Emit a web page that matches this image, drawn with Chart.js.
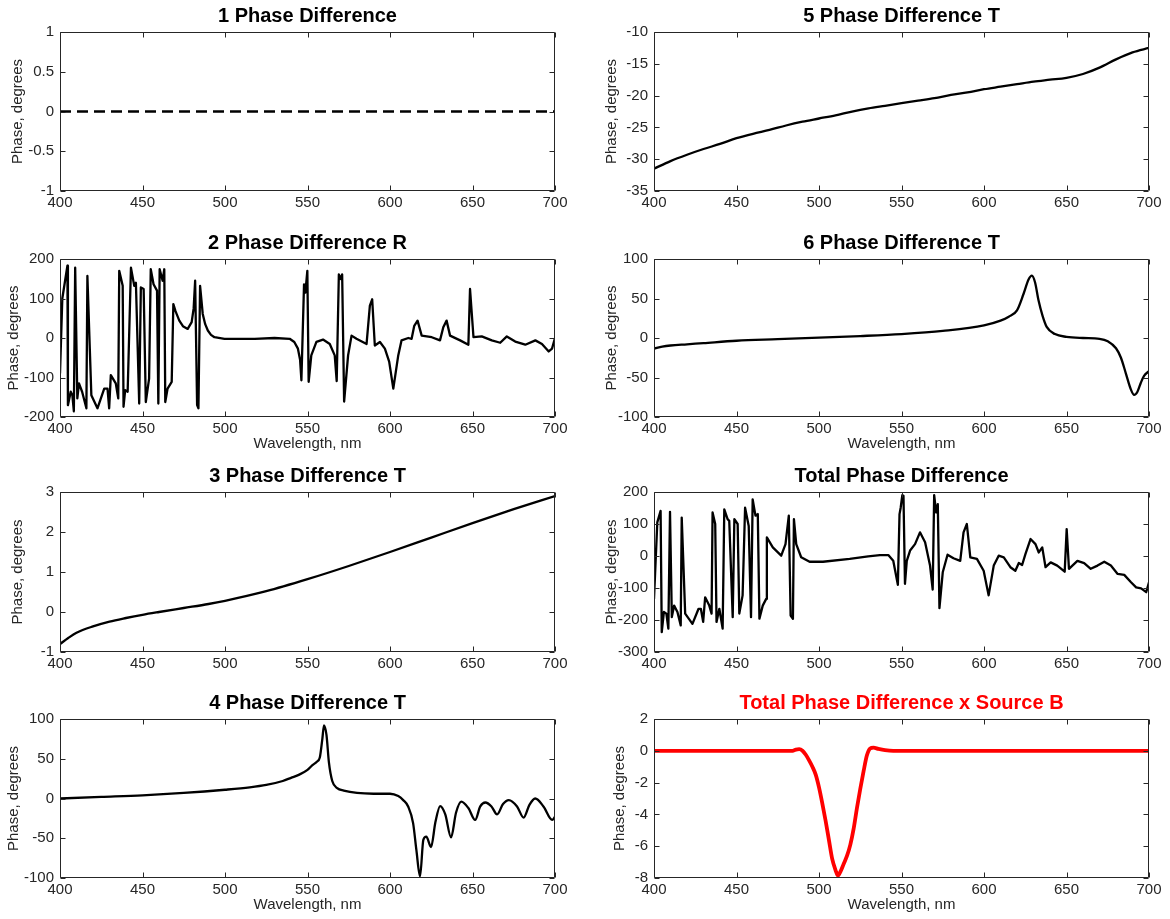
<!DOCTYPE html>
<html>
<head>
<meta charset="utf-8">
<script src="https://cdn.jsdelivr.net/npm/chart.js@4.4.0/dist/chart.umd.min.js"></script>
<style>
html,body{margin:0;padding:0;background:#ffffff;}
#wrap{position:relative;width:1170px;height:919px;overflow:hidden;background:#ffffff;}
#wrap canvas{position:absolute;}
</style>
</head>
<body>
<div id="wrap"></div>
<script>
// ---------------- DATA ----------------
const xTicks = [400, 450, 500, 550, 600, 650, 700];

const titles = [
  '1 Phase Difference', '2 Phase Difference R', '3 Phase Difference T', '4 Phase Difference T',
  '5 Phase Difference T', '6 Phase Difference T', 'Total Phase Difference', 'Total Phase Difference x Source B'
];

const yTicks1 = [-1, -0.5, 0, 0.5, 1];
const yTicks2 = [-200, -100, 0, 100, 200];
const yTicks3 = [-1, 0, 1, 2, 3];
const yTicks4 = [-100, -50, 0, 50, 100];
const yTicks5 = [-35, -30, -25, -20, -15, -10];
const yTicks6 = [-100, -50, 0, 50, 100];
const yTicksTotal = [-300, -200, -100, 0, 100, 200];
const yTicksB = [-8, -6, -4, -2, 0, 2];

// 1 Phase Difference
const wl1 = [400, 700];
const phase1 = [0, 0];

// 2 Phase Difference R
const wl2 = [400, 401.4, 404.5, 404.8, 406.5, 407.5, 408.4, 409.2, 410.5, 411.5, 413.4, 416, 416.6, 419, 422.7, 426.8, 428.8, 429.8, 430.8, 433.8,
  435.3, 435.9, 438, 438.5, 439.5, 441, 443, 445, 446, 448, 449, 450.7, 452, 454, 455, 456.7, 458.8, 459.6, 460.4, 462.2,
  463.2, 463.8, 465.2, 467.7, 468.7, 470, 472.3, 474.5, 477.4, 479.8, 481, 481.9, 483.1, 483.9, 484.9, 486.5, 488, 489.6, 491.5, 493.6,
  499.7, 518, 530, 539.2, 542, 544.2, 545.5, 546.3, 547.9, 548.7, 549.9, 550.7, 552.3, 555.4, 559.4, 563.5, 566.5, 567.7, 569, 570.2,
  571, 572.2, 574.6, 576.7, 579.7, 585.8, 587.8, 589.2, 590.8, 593.9, 596.9, 599.5, 602, 605, 607, 611.1, 613.1, 614.7, 616.7, 619.2,
  625.3, 630.3, 632.3, 634.3, 636.4, 642.5, 647.5, 648.5, 650.6, 655.6, 661.7, 666.8, 670.8, 675.9, 682, 688.1, 692.1, 696.2, 698.2, 699.6, 700];
const phase2 = [-90, 100, 183, -170, -136, -145, -186, 178, -153, -115, -136, -178, 157, -145, -178, -128, -128, -178, -94, -115,
  -153, 170, 132, -174, -132, -136, 178, 132, 140, -166, 128, 124, -162, -103, 174, 136, 120, -166, 174, 145,
  174, -162, -128, -111, 86, 68, 44, 30, 23, 40, 75, 145, -170, -178, 132, 61, 35, 19, 8, 2,
  -2, -2, 0, -2, -10, -27, -55, -107, 136, 115, 170, -111, -44, -10, -4, -15, -44, -109, 161, 149,
  161, -161, -44, 6, -2, -15, 82, 98, -19, -10, -27, -60, -128, -44, -6, 0, -2, 31, 44, 6,
  2, -6, 27, 44, 6, -6, -17, 124, 2, 4, -6, -12, 4, -9, -17, -6, -15, -34, -27, -6, 0];

// 3 Phase Difference T
const wl3 = [400, 405, 410, 420, 430, 440, 450, 460, 475, 490, 500, 525, 550, 575, 600, 625, 650, 675, 700];
const phase3 = [-0.8, -0.65, -0.52, -0.36, -0.24, -0.15, -0.07, 0, 0.1, 0.2, 0.28, 0.52, 0.82, 1.15, 1.5, 1.86, 2.22, 2.57, 2.9];

// 4 Phase Difference T
const wl4 = [400, 425, 450, 475, 500, 515, 525, 535, 540, 545, 550, 553, 555.5, 557.5, 559, 560, 561.5, 563, 565, 568,
  572, 580, 590, 600, 605, 608, 611, 614, 616, 618.2, 620.2, 622, 624.9, 627.5, 630.4, 633.5, 637, 640, 643.2, 647.5,
  651.6, 654.7, 657.8, 661.5, 664.9, 668.5, 672, 677, 681, 684.5, 688, 693, 698.3, 700];
const phase4 = [0, 2, 4, 7, 11, 14, 17, 22, 26, 30, 36, 42, 46, 52, 75, 92, 80, 45, 22, 13,
  10, 7, 6, 6, 3, -2, -10, -31, -65, -98, -52, -48, -61, -30, -9.5, -20, -49, -18, -4, -12,
  -27, -10, -5, -10, -20, -7, -2, -10, -24, -8, 0, -10, -27, -23];

// 5 Phase Difference T
const wl5 = [400, 410, 420, 430, 440, 450, 460, 470, 480, 490, 500, 510, 520, 530, 540, 550, 560, 570, 580, 590,
  600, 610, 620, 630, 640, 650, 660, 670, 680, 690, 700];
const phase5 = [-31.5, -30.3, -29.3, -28.4, -27.6, -26.7, -26.0, -25.4, -24.7, -24.1, -23.6, -23.1, -22.5, -22.0, -21.6, -21.2, -20.8, -20.4, -19.9, -19.5,
  -19.0, -18.6, -18.2, -17.8, -17.5, -17.2, -16.6, -15.6, -14.3, -13.2, -12.5];

// 6 Phase Difference T
const wl6 = [400, 405, 410, 420, 430, 450, 475, 500, 525, 550, 575, 600, 610, 615, 620, 624, 627, 629, 631, 633,
  635.5, 638, 643, 650, 660, 670, 675, 680, 683, 686, 689, 691, 693, 695, 697, 700];
const phase6 = [-13.5, -11, -9.5, -8, -6.5, -3.5, -1.5, 0.5, 2.5, 5, 9, 16, 22, 27, 35, 56, 74, 79, 70, 48,
  28, 14, 5, 1.5, 0, -1, -4, -13, -25, -45, -65, -72, -68, -57, -48, -42];

// Total Phase Difference
const wlTotal = [400, 402, 404, 404.7, 406, 407.5, 408.7, 409.7, 410.8, 412.2, 414.2, 416.2, 416.8, 418.9, 423.3, 427, 428.4, 429.8, 431, 433.5,
  434.9, 435.5, 437.1, 437.9, 439.6, 441.6, 442.6, 444.6, 445.6, 447.7, 448.7, 450.7, 451.7, 453.7, 455.2, 457.4, 458.8, 459.8, 461.5, 462.9,
  463.9, 465.9, 468, 468.4, 472, 477.1, 479.7, 481.7, 482.8, 484.2, 484.8, 486.2, 489.2, 494.3, 502.4, 518.6, 529.8, 536.9, 542, 545,
  547.8, 548.8, 549.5, 550.5, 551.2, 552.1, 553.2, 555.2, 558.2, 561.2, 564.3, 567.3, 568.9, 569.8, 571, 572, 573, 575, 577.9, 581.5,
  585.6, 587.6, 589.6, 591.7, 595.7, 599.8, 602.8, 605.9, 608.9, 612, 616, 619, 621.1, 623.1, 625.1, 628.2, 631.2, 633.2, 635.3, 637.3,
  640.4, 644.4, 648.9, 650.1, 651.5, 656.6, 660.7, 664.7, 668.8, 672.9, 676.9, 681, 685, 689.1, 692.2, 695.2, 698.3, 700];
const phaseTotal = [-134, 105, 141, -238, -175, -180, -227, 138, -191, -155, -175, -217, 120, -180, -212, -165, -165, -206, -129, -155,
  -180, 136, 100, -206, -165, -227, 146, 115, 110, -191, 115, 100, -180, -123, 151, 94, -191, 177, 126, 131,
  -196, -155, -134, 58, 27, 1, 37, 126, -186, -196, 115, 37, -4, -18, -18, -9, -1, 3, 3, -15,
  -90, 131, 151, 190, 188, -87, -15, 17, 37, 74, 43, -30, -105, 190, 136, 162, -163, -51, 4, -7,
  -15, 74, 100, -4, -9, -46, -123, -30, 1, -4, -35, -46, -22, -28, 6, 53, 37, 11, 27, -35,
  -20, -30, -49, 84, -40, -15, -22, -40, -30, -18, -30, -56, -59, -82, -98, -101, -113, -82];

// Total Phase Difference x Source B
const wlB = [400, 484, 486, 488, 490, 492, 494, 496, 498, 500, 502, 504, 506, 508, 510, 511.5, 513, 515, 517, 519,
  521, 523, 525, 527, 529, 531, 533, 536, 540, 545, 600, 700];
const phaseB = [0, 0, 0.08, 0.1, 0, -0.25, -0.6, -1.0, -1.5, -2.3, -3.3, -4.4, -5.6, -6.8, -7.5, -7.85, -7.6, -7.1, -6.6, -5.9,
  -4.9, -3.6, -2.4, -1.3, -0.3, 0.15, 0.2, 0.12, 0.04, 0, 0, 0];

// ---------------- RENDER ----------------
const FONT = '"Liberation Sans", Arial, Helvetica, sans-serif';
const AXIS_COLOR = '#262626';
Chart.defaults.font.family = FONT;
Chart.defaults.color = AXIS_COLOR;

const matlabBox = {
  id: 'matlabBox',
  afterDraw(chart, args, opts) {
    const {ctx, chartArea: a} = chart;
    const xs = chart.scales.x, ys = chart.scales.y;
    ctx.save();
    ctx.strokeStyle = AXIS_COLOR;
    ctx.lineWidth = 1;
    const L = Math.round(a.left) + 0.5, R = Math.round(a.right) - 0.5;
    const T = Math.round(a.top) + 0.5, B = Math.round(a.bottom) - 0.5;
    ctx.beginPath();
    ctx.rect(L, T, R - L, B - T);
    xs.ticks.forEach(t => {
      const p = Math.round(xs.getPixelForValue(t.value)) + 0.5;
      ctx.moveTo(p, B); ctx.lineTo(p, B - 5);
      ctx.moveTo(p, T); ctx.lineTo(p, T + 5);
    });
    ys.ticks.forEach(t => {
      const p = Math.round(ys.getPixelForValue(t.value)) + 0.5;
      ctx.moveTo(L, p); ctx.lineTo(L + 5, p);
      ctx.moveTo(R, p); ctx.lineTo(R - 5, p);
    });
    ctx.stroke();
    ctx.fillStyle = opts.color || '#000000';
    ctx.font = 'bold 20px ' + FONT;
    ctx.textAlign = 'center';
    ctx.textBaseline = 'middle';
    ctx.fillText(opts.text, (a.left + a.right) / 2, a.top - 16);
    ctx.restore();
  }
};

const wrap = document.getElementById('wrap');
const plainLabel = v => String(v);

function makeChart(s) {
  const c = document.createElement('canvas');
  const left = s.col === 0 ? 0 : 585;
  const topPad = 32;
  const bottomH = 42;
  const top = s.top - topPad;
  const h = topPad + (s.bottom - s.top) + bottomH;
  c.width = 585; c.height = h;
  c.style.left = left + 'px'; c.style.top = top + 'px';
  c.style.width = '585px'; c.style.height = h + 'px';
  wrap.appendChild(c);
  const yt = s.yTicks;
  new Chart(c, {
    type: 'line',
    data: {
      datasets: [{
        data: s.x.map((v, i) => ({x: v, y: s.y[i]})),
        borderColor: s.color,
        borderWidth: s.width,
        borderDash: s.dash || [],
        pointRadius: 0,
        fill: false,
        tension: 0,
        cubicInterpolationMode: s.smooth ? 'monotone' : 'default',
        borderJoinStyle: 'round',
        borderCapStyle: 'butt'
      }]
    },
    options: {
      responsive: false,
      animation: false,
      events: [],
      devicePixelRatio: 1,
      layout: {padding: {top: topPad, right: s.col === 0 ? 30 : 21, left: 0, bottom: 0}},
      plugins: {
        legend: {display: false},
        tooltip: {enabled: false},
        title: {display: false},
        matlabBox: {text: s.title, color: s.titleColor}
      },
      scales: {
        x: {
          type: 'linear', min: 400, max: 700,
          afterBuildTicks: sc => { sc.ticks = xTicks.map(v => ({value: v})); },
          afterFit: sc => { sc.height = bottomH; },
          grid: {display: false, drawTicks: false},
          border: {display: false},
          ticks: {padding: 3, font: {size: 15}, color: AXIS_COLOR, maxRotation: 0, autoSkip: false, callback: plainLabel},
          title: {display: s.xlabel, text: 'Wavelength, nm', font: {size: 15}, color: AXIS_COLOR, padding: {top: 0, bottom: 6.5}}
        },
        y: {
          type: 'linear', min: yt[0], max: yt[yt.length - 1],
          afterBuildTicks: sc => { sc.ticks = yt.map(v => ({value: v})); },
          afterFit: sc => { sc.width = s.col === 0 ? 60 : 69; },
          grid: {display: false, drawTicks: false},
          border: {display: false},
          ticks: {padding: 6, font: {size: 15}, color: AXIS_COLOR, autoSkip: false, callback: plainLabel},
          title: {display: true, text: 'Phase, degrees', font: {size: 15}, color: AXIS_COLOR, padding: {top: s.ylabPad, bottom: 0}}
        }
      }
    },
    plugins: [matlabBox]
  });
}

const rowTop = [32, 259, 492, 719];
const rowBottom = [191, 417, 652, 878];

const specs = [
  {col: 0, row: 0, x: wl1, y: phase1, yTicks: yTicks1, title: titles[0], color: '#000000', width: 2.6, dash: [11, 6], xlabel: false, ylabPad: 9},
  {col: 0, row: 1, x: wl2, y: phase2, yTicks: yTicks2, title: titles[1], color: '#000000', width: 2.3, xlabel: true, ylabPad: 5},
  {col: 0, row: 2, x: wl3, y: phase3, yTicks: yTicks3, title: titles[2], color: '#000000', width: 2.3, smooth: true, xlabel: false, ylabPad: 9},
  {col: 0, row: 3, x: wl4, y: phase4, yTicks: yTicks4, title: titles[3], color: '#000000', width: 2.3, smooth: true, xlabel: true, ylabPad: 5},
  {col: 1, row: 0, x: wl5, y: phase5, yTicks: yTicks5, title: titles[4], color: '#000000', width: 2.3, smooth: true, xlabel: false, ylabPad: 18},
  {col: 1, row: 1, x: wl6, y: phase6, yTicks: yTicks6, title: titles[5], color: '#000000', width: 2.3, smooth: true, xlabel: true, ylabPad: 18},
  {col: 1, row: 2, x: wlTotal, y: phaseTotal, yTicks: yTicksTotal, title: titles[6], color: '#000000', width: 2.3, xlabel: false, ylabPad: 18},
  {col: 1, row: 3, x: wlB, y: phaseB, yTicks: yTicksB, title: titles[7], titleColor: '#ff0000', color: '#ff0000', width: 3.8, smooth: true, xlabel: true, ylabPad: 26}
];

specs.forEach(s => {
  s.top = rowTop[s.row];
  s.bottom = rowBottom[s.row];
  makeChart(s);
});
</script>
</body>
</html>
